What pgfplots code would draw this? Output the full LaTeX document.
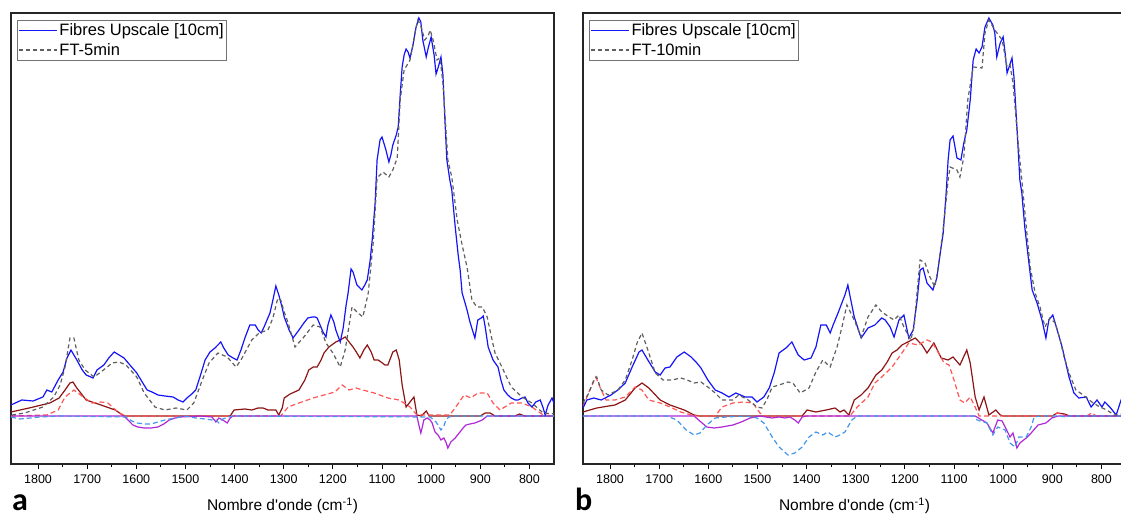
\documentclass[border=0pt]{standalone}
\usepackage{fontspec}
\setmainfont{Liberation Sans}
\newfontfamily\panelfont{Carlito}
\usepackage{pgfplots}
\pgfplotsset{compat=1.18}
\definecolor{cblue}{RGB}{20,20,250}
\definecolor{cgray}{RGB}{95,95,95}
\definecolor{cmaroon}{RGB}{140,20,20}
\definecolor{cred}{RGB}{255,85,85}
\definecolor{cpurple}{RGB}{175,40,215}
\definecolor{clblue}{RGB}{70,150,235}
\pgfplotsset{spec/.style={
  width=543pt, height=451pt, scale only axis,
  x dir=reverse, xmin=750, xmax=1855, ymin=-48, ymax=403,
  xtick={800,900,1000,1100,1200,1300,1400,1500,1600,1700,1800},
  minor x tick num=1, ytick=\empty, xtick pos=left, tick align=outside,
  major tick length=5pt, minor tick length=3pt,
  tick style={black, line width=0.8pt},
  axis line style={line width=1.2pt, black!85},
  /pgf/number format/assume math mode=true,
  /pgf/number format/1000 sep={},
  xticklabel style={font=\fontsize{12.5}{14}\selectfont, anchor=base, yshift=-15pt},
  xlabel={Nombre d\textquotesingle onde (cm\textsuperscript{-1})},
  xlabel style={font=\fontsize{15.5}{18}\selectfont, at={(axis description cs:0.5,0)}, anchor=base, yshift=-47pt},
  legend style={at={(0,1)}, anchor=north west, xshift=6pt, yshift=-7pt, draw=black!55, line width=0.6pt, font=\fontsize{16.5}{19}\selectfont, inner xsep=1pt, inner ysep=1.5pt, row sep=2pt},
  legend cell align=left,
  legend image code/.code={\draw[#1] (0pt,0pt) -- (38pt,0pt);},
}}
\begin{document}
\begin{tikzpicture}[x=1pt,y=1pt]
\useasboundingbox (0,0) rectangle (1121,518);
% ---------------- panel a ----------------
\begin{axis}[spec, at={(11pt,54pt)}, anchor=south west]
\addplot[cmaroon, line width=1.2pt, forget plot] coordinates {(1855,4)(1818,8)(1776,13)(1757,18)(1745,26)(1735,33)(1729,34)(1721,28)(1702,16)(1672,11)(1643,6)(1625,0)(1409,0)(1401,6)(1379,7)(1365,6)(1352,8)(1342,8)(1332,6)(1324,6)(1316,6)(1310,1)(1303,8)(1299,18)(1287,22)(1269,26)(1257,36)(1249,46)(1240,49)(1232,49)(1224,56)(1218,63)(1208,69)(1194,74)(1185,76)(1175,79)(1167,74)(1159,69)(1151,63)(1145,58)(1137,66)(1130,71)(1122,64)(1116,56)(1108,56)(1102,54)(1094,51)(1088,51)(1078,64)(1071,66)(1065,56)(1059,31)(1051,9)(1043,14)(1035,19)(1029,1)(1020,0)(1010,5)(1004,0)(900,0)(890,3)(880,3)(870,0)(830,0)(820,2)(810,0)(750,0)};
\addplot[cred, line width=1.2pt, dash pattern=on 5pt off 3pt, forget plot] coordinates {(1855,0)(1782,1)(1759,6)(1745,19)(1727,26)(1708,19)(1690,13)(1672,14)(1658,13)(1635,3)(1621,0)(1306,0)(1291,9)(1269,13)(1240,18)(1218,21)(1196,24)(1181,31)(1167,26)(1153,28)(1139,26)(1116,23)(1088,18)(1065,16)(1043,9)(1029,1)(962,1)(947,11)(933,21)(919,18)(905,23)(886,23)(874,13)(860,6)(837,13)(815,13)(795,9)(772,1)(750,0)};
\addplot[cpurple, line width=1.2pt, forget plot] coordinates {(1855,0)(1625,0)(1617,-4)(1607,-9)(1597,-11)(1584,-12)(1570,-12)(1556,-11)(1544,-8)(1533,-4)(1521,-2)(1511,-1)(1470,0)(1446,-1)(1438,-6)(1432,-2)(1424,-4)(1415,-7)(1409,-2)(1403,0)(1029,0)(1025,-9)(1021,-17)(1017,-9)(1015,-4)(1008,-2)(1002,-4)(998,-7)(992,-16)(986,-19)(980,-24)(974,-22)(970,-26)(966,-32)(960,-26)(951,-22)(943,-17)(935,-12)(929,-9)(921,-8)(911,-7)(896,-4)(886,0)(750,0)};
\addplot[clblue, line width=1.2pt, dash pattern=on 5pt off 3pt, forget plot] coordinates {(1855,-1)(1837,-3)(1816,-2)(1796,-1)(1755,0)(1621,-1)(1609,-5)(1599,-7)(1582,-8)(1570,-8)(1556,-6)(1542,-4)(1521,-2)(1501,0)(1479,-2)(1460,-3)(1446,-4)(1438,-4)(1432,-7)(1424,-3)(1413,-1)(1403,0)(1002,-1)(990,-6)(980,-14)(974,-10)(970,-4)(964,-1)(951,0)(750,0)};
\addplot[cblue, line width=1.2pt] coordinates {(1855,11)(1833,16)(1810,15)(1790,19)(1782,26)(1772,24)(1759,36)(1749,44)(1741,58)(1733,66)(1721,56)(1710,46)(1702,41)(1688,38)(1680,46)(1666,51)(1656,58)(1645,64)(1635,61)(1625,58)(1613,51)(1599,43)(1588,34)(1578,26)(1568,24)(1556,21)(1542,20)(1525,19)(1515,16)(1505,14)(1497,18)(1487,22)(1479,26)(1468,43)(1460,56)(1450,64)(1440,68)(1428,74)(1422,68)(1413,61)(1403,58)(1395,56)(1387,66)(1379,78)(1369,91)(1358,91)(1352,86)(1346,83)(1340,89)(1328,103)(1322,116)(1316,130)(1310,121)(1303,108)(1299,99)(1289,86)(1281,78)(1275,82)(1269,86)(1259,93)(1251,98)(1242,99)(1236,99)(1232,98)(1226,91)(1220,84)(1214,79)(1210,91)(1204,101)(1198,94)(1194,86)(1185,74)(1179,88)(1173,111)(1169,123)(1163,147)(1159,144)(1151,131)(1141,126)(1135,131)(1130,136)(1124,156)(1120,176)(1114,213)(1110,256)(1104,276)(1100,279)(1092,266)(1086,254)(1082,261)(1078,271)(1071,281)(1067,289)(1063,321)(1059,349)(1055,361)(1051,367)(1047,364)(1043,358)(1037,371)(1031,388)(1025,398)(1021,394)(1017,376)(1010,359)(1006,368)(1000,379)(994,361)(990,342)(986,348)(980,359)(976,341)(972,296)(968,256)(962,236)(958,226)(951,189)(945,161)(941,146)(937,123)(931,113)(927,106)(921,94)(911,78)(905,96)(898,98)(894,100)(890,89)(884,69)(874,56)(864,49)(858,36)(852,26)(844,21)(837,18)(829,16)(823,16)(815,18)(809,19)(803,13)(795,9)(787,14)(778,16)(772,8)(768,1)(762,11)(754,18)(748,10)};
\addplot[cgray, line width=1.2pt, dash pattern=on 4pt off 3pt] coordinates {(1853,1)(1827,3)(1790,9)(1768,19)(1755,31)(1745,49)(1735,78)(1727,78)(1717,56)(1704,46)(1686,39)(1672,44)(1649,53)(1635,54)(1621,51)(1599,39)(1584,23)(1562,9)(1542,6)(1519,8)(1497,6)(1483,13)(1468,33)(1452,53)(1434,63)(1415,59)(1397,49)(1387,56)(1365,76)(1350,83)(1332,86)(1322,98)(1312,118)(1306,116)(1299,104)(1291,93)(1277,69)(1259,79)(1240,91)(1226,89)(1214,73)(1200,63)(1185,49)(1175,66)(1161,109)(1151,104)(1139,99)(1128,123)(1118,173)(1110,238)(1098,244)(1086,239)(1078,246)(1069,258)(1063,316)(1055,346)(1049,351)(1043,356)(1037,371)(1031,388)(1027,396)(1021,390)(1013,376)(1006,380)(1002,386)(996,376)(988,356)(982,358)(976,333)(966,256)(958,239)(947,196)(937,171)(927,149)(917,116)(907,109)(896,109)(886,99)(876,76)(870,63)(856,49)(837,29)(815,19)(795,13)(772,3)(748,2)};
\legend{Fibres Upscale [10cm],FT-5min}
\end{axis}
% ---------------- panel b ----------------
\begin{axis}[spec, at={(583pt,54pt)}, anchor=south west]
\addplot[cmaroon, line width=1.2pt, forget plot] coordinates {(1855,4)(1827,8)(1790,11)(1769,16)(1749,28)(1735,33)(1721,28)(1698,16)(1678,11)(1649,6)(1629,1)(1617,0)(1409,0)(1399,6)(1381,4)(1360,6)(1342,8)(1332,4)(1324,6)(1314,1)(1303,16)(1289,21)(1275,28)(1259,41)(1247,46)(1236,54)(1226,63)(1216,66)(1206,71)(1194,74)(1179,78)(1165,71)(1155,63)(1141,73)(1126,58)(1112,56)(1102,59)(1088,51)(1074,66)(1067,53)(1057,19)(1049,6)(1039,19)(1029,1)(1015,6)(1006,1)(1000,0)(900,0)(890,3)(875,2)(865,0)(750,0)};
\addplot[cred, line width=1.2pt, dash pattern=on 5pt off 3pt, forget plot] coordinates {(1855,9)(1843,24)(1829,39)(1818,26)(1808,16)(1790,16)(1769,19)(1749,29)(1735,26)(1721,16)(1698,13)(1678,9)(1656,4)(1635,1)(1623,0)(1586,0)(1572,9)(1550,13)(1529,14)(1509,13)(1495,3)(1485,0)(1312,0)(1297,9)(1275,19)(1261,33)(1247,39)(1226,49)(1206,63)(1192,73)(1173,71)(1155,76)(1145,74)(1135,66)(1120,53)(1110,51)(1100,36)(1088,16)(1078,13)(1067,19)(1057,9)(1049,0)(900,0)(890,3)(880,2)(870,0)(830,0)(820,3)(810,0)(750,0)};
\addplot[cpurple, line width=1.2pt, forget plot] coordinates {(1855,0)(1629,0)(1615,-6)(1603,-11)(1588,-12)(1572,-11)(1550,-9)(1533,-6)(1515,-2)(1495,0)(1470,-2)(1456,-1)(1444,-2)(1434,-1)(1424,-4)(1417,-7)(1409,-1)(1401,0)(1057,0)(1033,-7)(1021,-17)(1011,-4)(1002,-5)(996,-11)(986,-21)(980,-17)(972,-32)(966,-27)(953,-22)(943,-17)(929,-9)(913,-7)(901,-2)(888,0)(750,0)};
\addplot[clblue, line width=1.2pt, dash pattern=on 5pt off 3pt, forget plot] coordinates {(1855,0)(1684,0)(1664,-4)(1645,-14)(1629,-19)(1617,-17)(1603,-9)(1586,-2)(1564,-1)(1523,0)(1501,-2)(1487,-7)(1470,-21)(1456,-31)(1438,-39)(1424,-37)(1409,-31)(1395,-21)(1381,-16)(1367,-19)(1357,-16)(1342,-21)(1332,-19)(1322,-16)(1308,-4)(1297,0)(1059,0)(1053,-4)(1033,-7)(1021,-19)(1011,-11)(996,-14)(986,-27)(976,-31)(968,-21)(953,-21)(943,-11)(937,-1)(925,0)(884,0)(874,-1)(864,0)(750,0)};
\addplot[cblue, line width=1.2pt] coordinates {(1855,8)(1847,16)(1833,18)(1818,16)(1798,21)(1784,26)(1769,33)(1755,49)(1741,64)(1735,66)(1723,56)(1708,44)(1698,41)(1688,48)(1678,49)(1664,59)(1649,64)(1635,59)(1625,54)(1615,48)(1601,36)(1586,26)(1572,23)(1558,19)(1544,23)(1525,19)(1511,19)(1501,14)(1487,19)(1476,28)(1466,43)(1456,63)(1442,68)(1430,74)(1417,61)(1405,56)(1391,58)(1381,69)(1371,91)(1360,91)(1352,83)(1346,91)(1336,103)(1322,121)(1316,131)(1310,116)(1303,99)(1289,78)(1275,88)(1261,91)(1247,98)(1240,96)(1230,89)(1222,79)(1212,96)(1202,101)(1192,78)(1183,86)(1175,116)(1169,146)(1163,148)(1155,133)(1143,126)(1135,138)(1128,163)(1122,183)(1116,223)(1112,256)(1108,276)(1102,280)(1094,258)(1086,256)(1080,273)(1074,286)(1067,316)(1061,356)(1055,367)(1049,363)(1043,369)(1037,389)(1029,398)(1021,391)(1017,383)(1013,359)(1006,373)(1000,379)(996,363)(992,343)(988,349)(982,358)(978,339)(972,289)(966,236)(962,223)(956,189)(949,159)(941,126)(931,113)(921,96)(913,78)(907,96)(899,101)(890,86)(880,69)(874,56)(866,39)(856,23)(846,18)(831,19)(821,9)(809,16)(799,9)(793,14)(783,9)(770,1)(760,16)(750,28)};
\addplot[cgray, line width=1.2pt, dash pattern=on 4pt off 3pt] coordinates {(1855,13)(1843,23)(1833,36)(1827,39)(1818,26)(1804,21)(1784,26)(1769,36)(1755,56)(1745,73)(1735,83)(1723,66)(1708,43)(1692,36)(1674,36)(1656,38)(1643,36)(1629,33)(1615,34)(1601,29)(1586,23)(1572,16)(1550,16)(1538,21)(1519,16)(1501,9)(1491,8)(1481,16)(1470,29)(1456,31)(1438,34)(1428,33)(1413,23)(1395,28)(1381,44)(1367,56)(1352,49)(1338,69)(1328,89)(1318,111)(1303,96)(1289,79)(1275,99)(1259,111)(1247,104)(1232,99)(1222,96)(1212,101)(1202,89)(1188,76)(1181,90)(1175,125)(1169,156)(1159,153)(1149,139)(1139,129)(1133,146)(1124,179)(1118,206)(1112,236)(1108,249)(1094,246)(1088,239)(1080,259)(1072,316)(1061,349)(1043,348)(1037,383)(1029,396)(1017,386)(1002,376)(992,349)(986,351)(980,333)(970,276)(962,236)(951,179)(945,149)(935,123)(925,109)(915,89)(905,98)(894,93)(884,76)(876,59)(866,43)(852,26)(837,21)(817,13)(803,9)(789,6)(774,1)(760,2)(750,3)};
\legend{Fibres Upscale [10cm],FT-10min}
\end{axis}
\node[anchor=base west, inner sep=0pt, font=\panelfont\bfseries\fontsize{32}{34}\selectfont] at (12,7) {a};
\node[anchor=base west, inner sep=0pt, font=\panelfont\bfseries\fontsize{32}{34}\selectfont] at (575,7) {b};
\end{tikzpicture}
\end{document}
